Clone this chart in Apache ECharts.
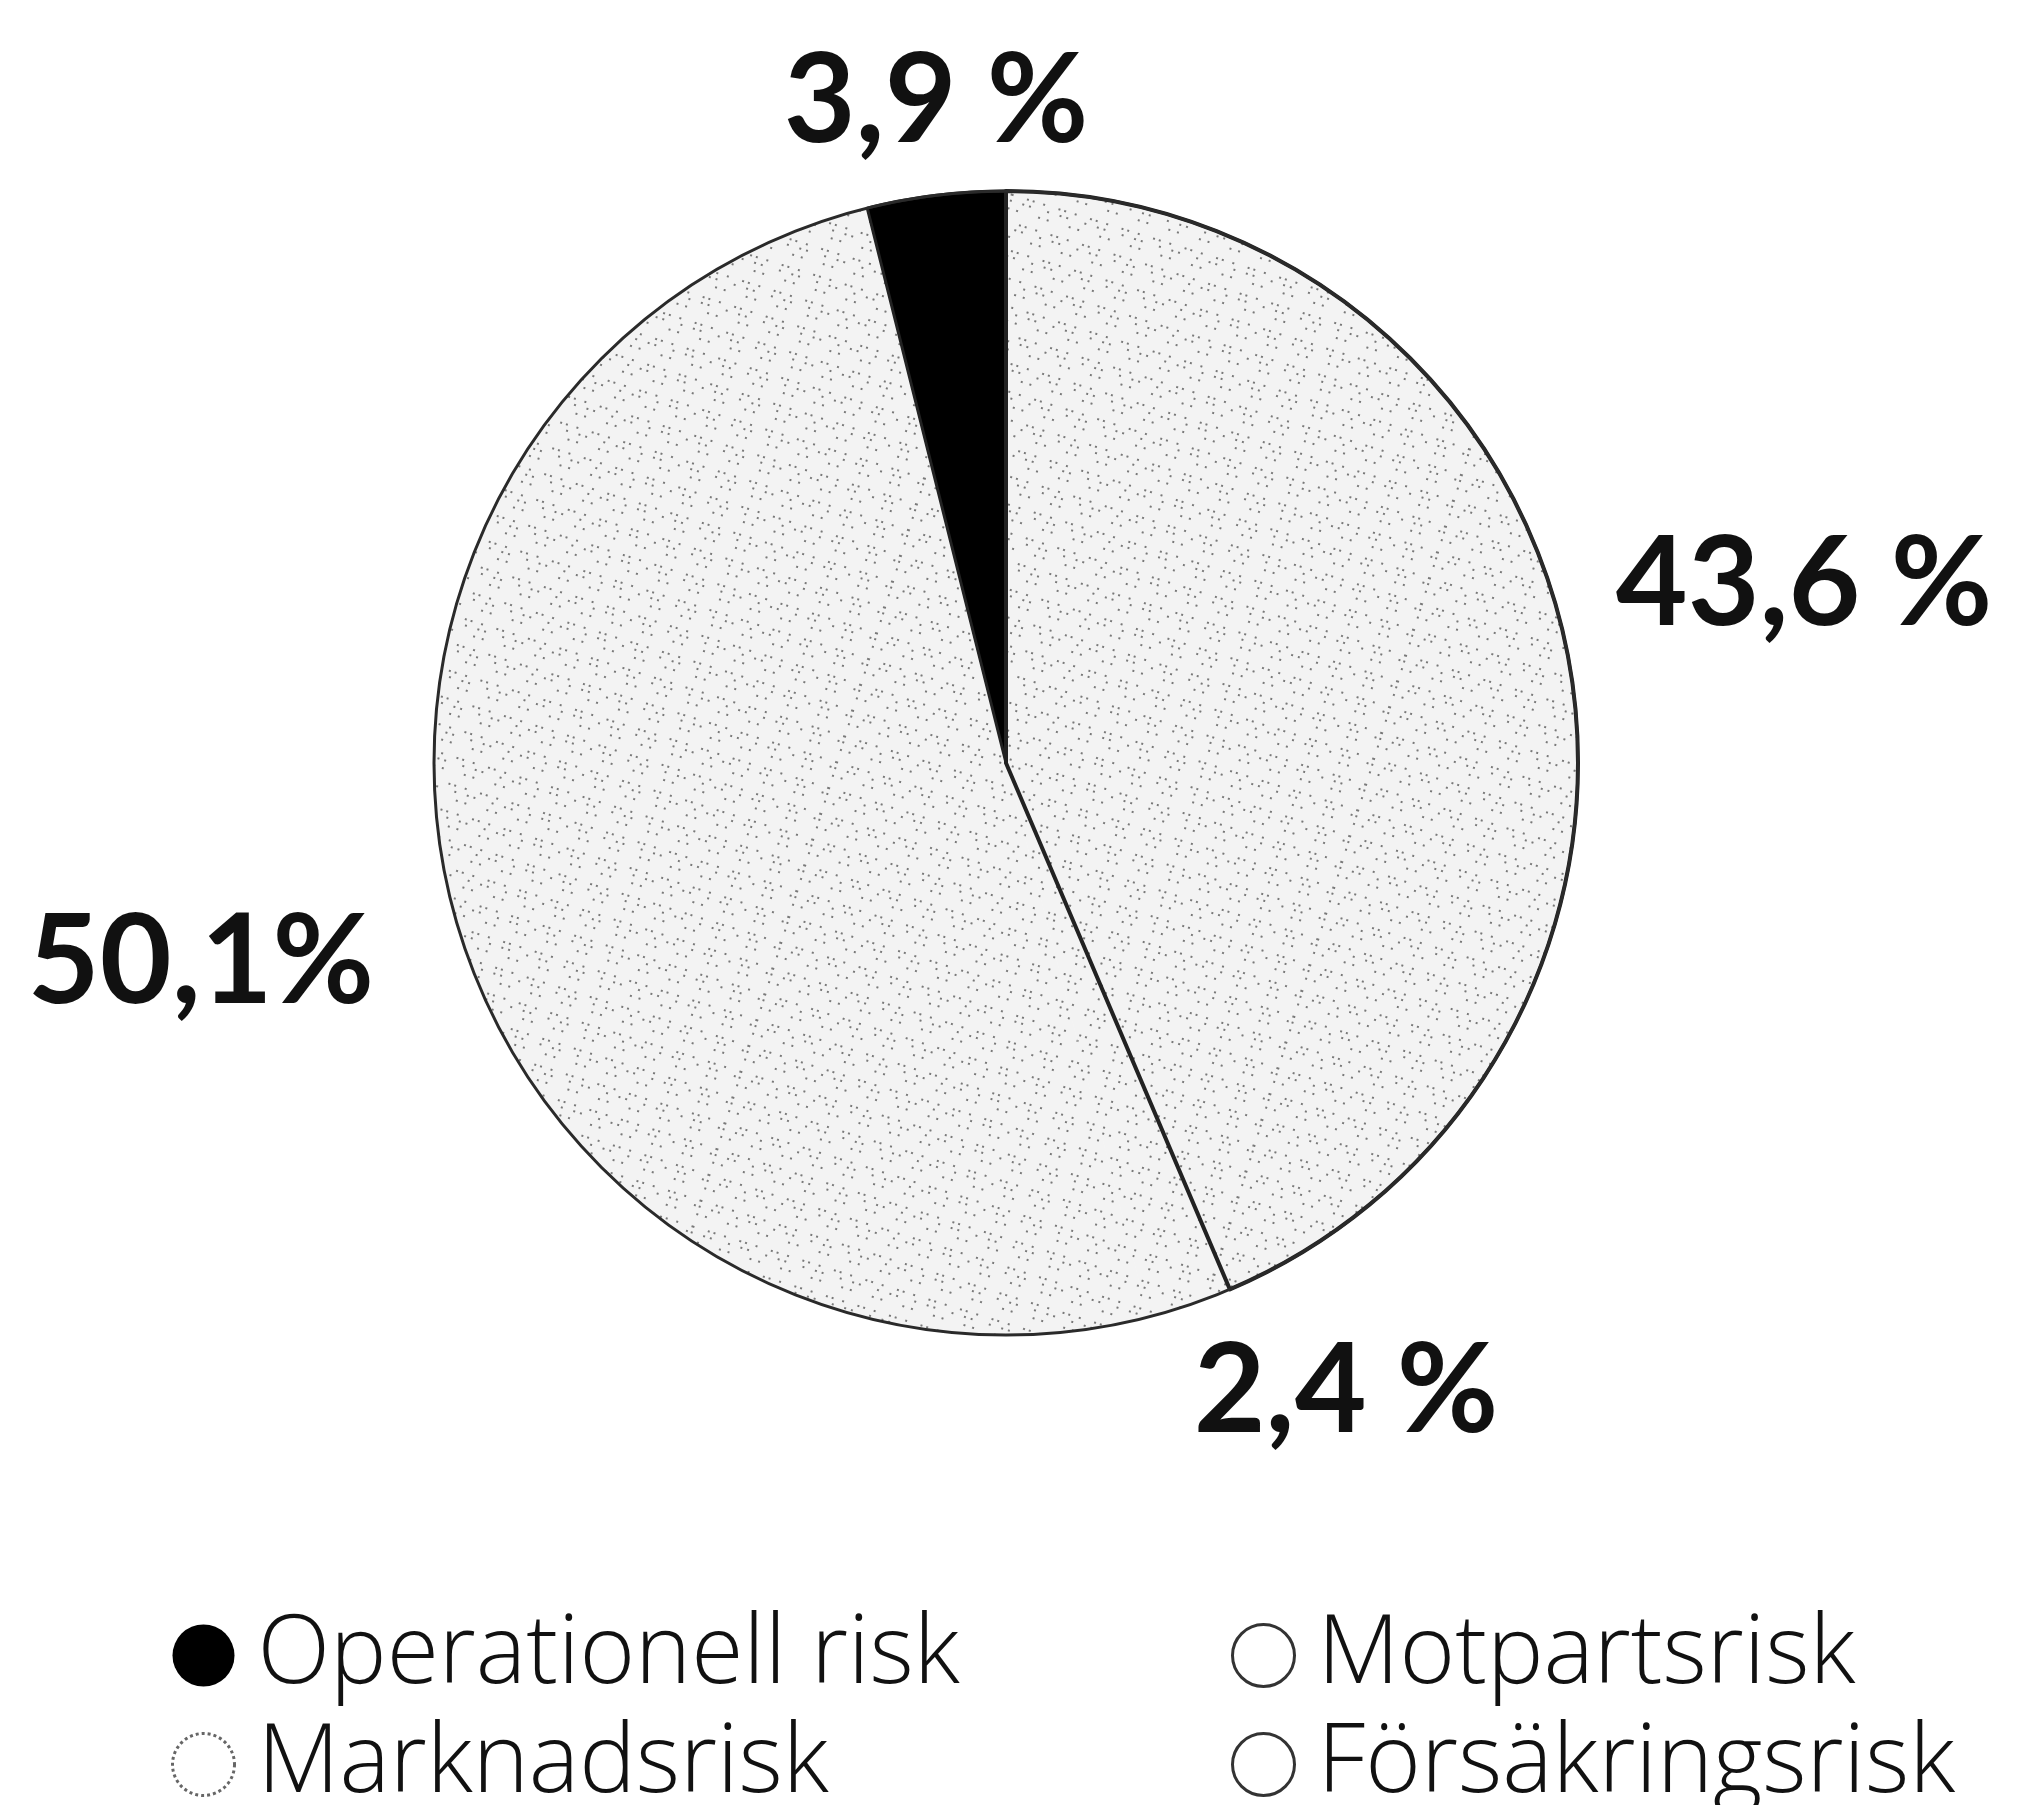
<!DOCTYPE html>
<html>
<head>
<meta charset="utf-8">
<style>
  html, body { margin: 0; padding: 0; background: #fff; }
  #main { width: 2038px; height: 1805px; }
</style>
<script src="https://cdn.jsdelivr.net/npm/echarts@6/dist/echarts.min.js"></script>
</head>
<body>
<div id="main"></div>
<script>
// data, clockwise from 12 o'clock
var categories = ['Försäkringsrisk', 'Motpartsrisk', 'Marknadsrisk', 'Operationell risk'];
var shares = [43.6, 2.4, 50.1, 3.9];
var shareLabels = ['43,6 %', '2,4 %', '50,1%', '3,9 %'];

// label anchor points (px)
var labelPos = [[1804, 585], [1346, 1392], [201, 963], [936, 102]];

var chart = echarts.init(document.getElementById('main'));

//speckle texture
var speckle = {
    symbol: 'rect',
    symbolSize: 1,
    color: 'rgba(40,40,40,0.6)',
    backgroundColor: '#f3f3f3',
    dashArrayX: [[2, 11, 2, 5, 2, 17], [2, 7, 2, 21], [2, 14, 2, 4, 2, 9]],
    dashArrayY: [2, 6, 2, 11, 2, 4],
    rotation: 0.3
};

var sliceStyle = [
    {color: '#f3f3f3', decal: speckle},
    {color: '#f8f8f8', decal: speckle},
    {color: '#f3f3f3', decal: speckle},
    {color: '#000000'}
];
// which slice edges get a drawn line
var edgeWidth = [4, 0, 0, 3];

var legendStyle = {
    'Operationell risk': {color: '#000', borderColor: '#000', borderWidth: 0, decal: 'none'},
    'Marknadsrisk': {color: '#fff', borderColor: '#666', borderWidth: 3, borderType: 'dotted', decal: 'none'},
    'Motpartsrisk': {color: '#fff', borderColor: '#333', borderWidth: 3, decal: 'none'},
    'Försäkringsrisk': {color: '#fff', borderColor: '#333', borderWidth: 3, decal: 'none'}
};

function legendData(names) {
    return names.map(function (n) {
        return {name: n, icon: 'circle', itemStyle: legendStyle[n]};
    });
}

var legendBase = {
    orient: 'vertical',
    top: 1603,
    height: 260,
    itemWidth: 62,
    itemHeight: 62,
    itemGap: 14,
    selectedMode: false,
    textStyle: {fontFamily: 'Open Sans', fontWeight: 300, fontSize: 95, lineHeight: 92, color: '#111', padding: [0, 0, 0, 18]}
};

var center = [1006, 763], radius = 572;

chart.setOption({
    backgroundColor: '#fff',
    animation: false,
    legend: [
        Object.assign({left: 166, data: legendData(['Operationell risk', 'Marknadsrisk'])}, legendBase),
        Object.assign({left: 1226, data: legendData(['Motpartsrisk', 'Försäkringsrisk'])}, legendBase)
    ],
    series: [{
        type: 'pie',
        center: center,
        radius: radius,
        startAngle: 90,
        clockwise: true,
        avoidLabelOverlap: false,
        itemStyle: {borderWidth: 0},
        label: {
            show: true,
            position: 'outside',
            fontFamily: 'Lato',
            fontWeight: 'bold',
            fontSize: 124,
            color: '#111',
            formatter: function (p) { return shareLabels[p.dataIndex]; }
        },
        labelLine: {show: false},
        labelLayout: function (p) {
            var pos = labelPos[p.dataIndex];
            return {x: pos[0], y: pos[1], align: 'center', verticalAlign: 'middle'};
        },
        data: categories.map(function (c, i) {
            return {name: c, value: shares[i], itemStyle: sliceStyle[i]};
        })
    }, {
        // slice edges drawn on top
        type: 'pie',
        center: center,
        radius: radius,
        startAngle: 90,
        clockwise: true,
        silent: true,
        label: {show: false},
        labelLine: {show: false},
        data: categories.map(function (c, i) {
            return {name: c, value: shares[i], itemStyle: {color: 'rgba(0,0,0,0)', borderColor: '#222', borderWidth: edgeWidth[i]}};
        })
    }, {
        // outline of the whole disc
        type: 'pie',
        center: center,
        radius: radius,
        silent: true,
        label: {show: false},
        labelLine: {show: false},
        itemStyle: {color: 'rgba(0,0,0,0)', borderColor: '#2a2a2a', borderWidth: 3},
        data: [{name: 'outline', value: 1}]
    }]
});
</script>
</body>
</html>
